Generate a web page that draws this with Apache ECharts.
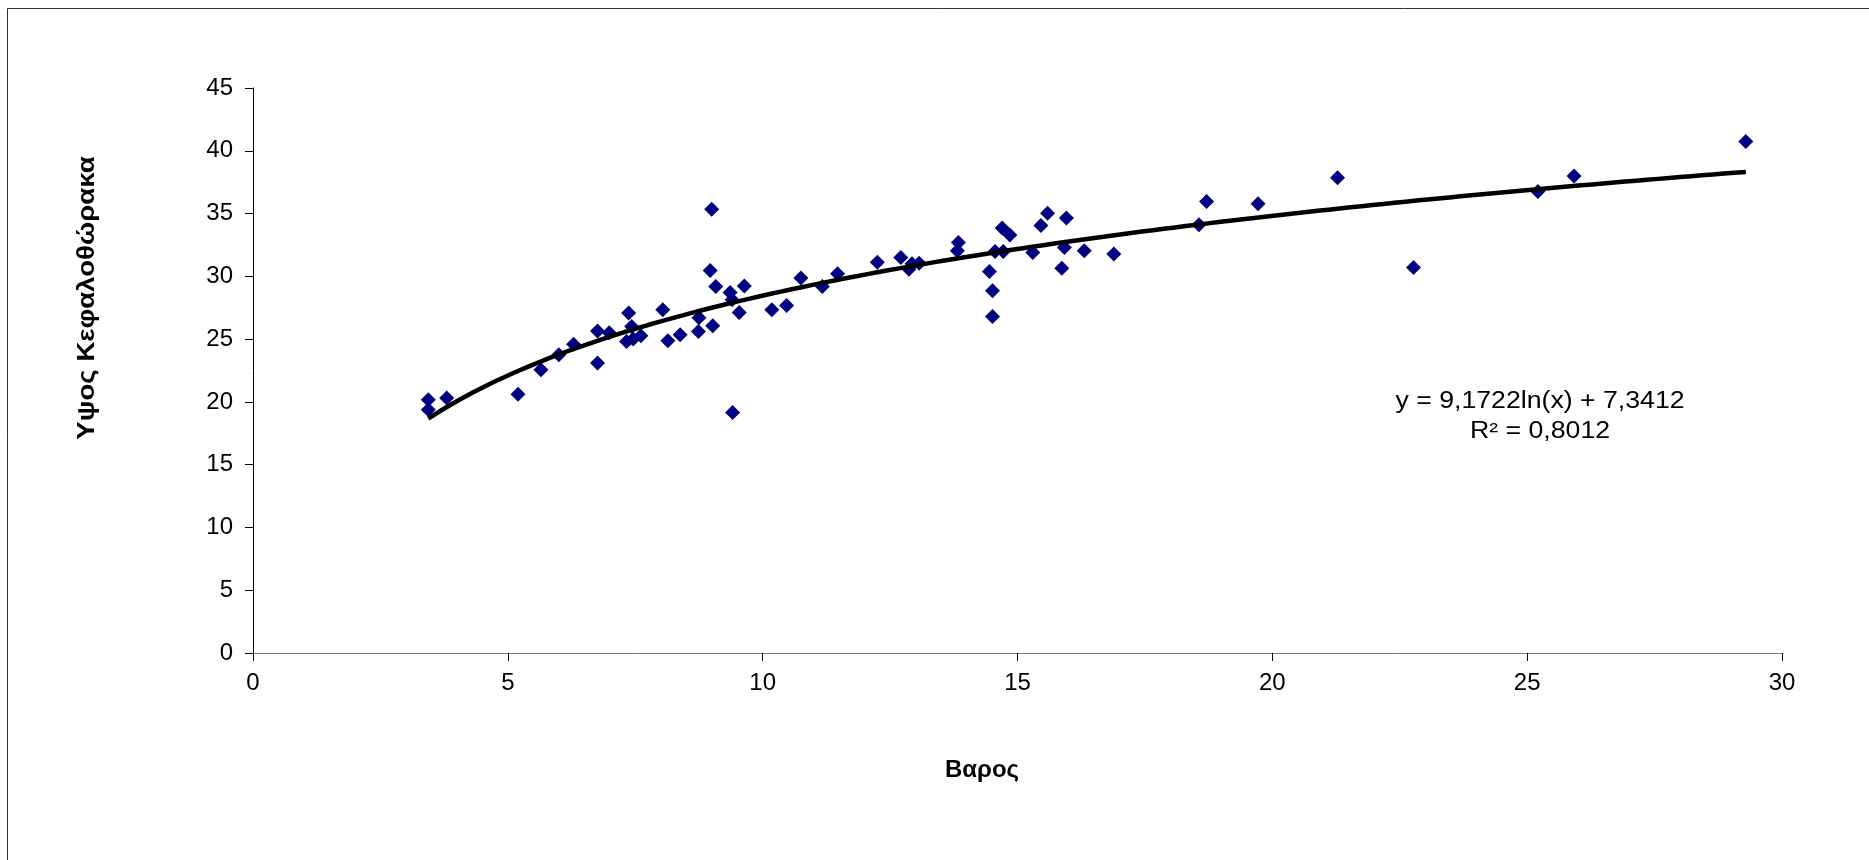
<!DOCTYPE html>
<html>
<head>
<meta charset="utf-8">
<script src="https://cdn.jsdelivr.net/npm/echarts@6/dist/echarts.min.js"></script>
<style>
html,body{margin:0;padding:0;background:#fff;}
#chart{width:1869px;height:860px;}
</style>
</head>
<body>
<div id="chart"></div>
<script>
// Weight (Βαρος)
var weights = [3.44, 3.44, 3.80, 5.20, 5.65, 6.00, 6.29, 6.76, 6.76, 6.99,
  7.37, 7.43, 7.33, 7.46, 7.61, 8.04, 8.14, 8.38, 8.75, 8.74,
  9.02, 9.00, 8.97, 9.08, 9.36, 9.40, 9.64, 9.54, 9.41, 10.18,
  10.47, 10.75, 11.17, 11.47, 12.25, 12.71, 12.87, 12.93, 13.07, 13.84,
  13.82, 14.45, 14.51, 14.51, 14.56, 14.72, 14.70, 14.85, 15.30, 15.46,
  15.59, 15.92, 15.87, 15.96, 16.31, 16.89, 18.56, 18.71, 19.72, 21.28,
  22.77, 25.21, 25.92, 29.29];
// Cephalothorax height (Υψος Κεφαλοθώρακα)
var heights = [20.17, 19.37, 20.30, 20.60, 22.55, 23.75, 24.60, 23.10, 25.65, 25.50,
  27.07, 26.00, 24.80, 25.00, 25.26, 27.33, 24.86, 25.34, 26.70, 25.60,
  26.06, 35.35, 30.47, 29.19, 28.71, 28.13, 29.24, 27.12, 19.16, 27.33,
  27.68, 29.86, 29.19, 30.20, 31.13, 31.50, 30.57, 31.00, 31.05, 32.70,
  32.03, 30.39, 28.85, 26.80, 31.98, 31.98, 33.85, 33.30, 31.90, 34.05,
  35.03, 32.30, 30.65, 34.64, 32.03, 31.77, 34.10, 35.96, 35.78, 37.85,
  30.70, 36.76, 38.00, 40.74];
// Logarithmic trendline shown on the chart: y = a ln(x) + b
var trendA = 9.1722;
var trendB = 7.3412;
var trendR2 = 0.8012;
var xAxisTitle = 'Βαρος';
var yAxisTitle = 'Υψος Κεφαλοθώρακα';

var scatterData = weights.map(function (w, i) { return [w, heights[i]]; });
var xMin = Math.min.apply(null, weights), xMax = Math.max.apply(null, weights);
var trendData = [];
for (var k = 0; k <= 120; k++) {
  var x = xMin + (xMax - xMin) * k / 120;
  trendData.push([x, trendA * Math.log(x) + trendB]);
}
function fmt(v) { return v.toFixed(4).replace('.', ','); }

var chart = echarts.init(document.getElementById('chart'), null, {renderer: 'canvas'});
var FONT = '"Liberation Sans", Arial, sans-serif';
chart.setOption({
  backgroundColor: '#fff',
  animation: false,
  grid: {left: 253, right: 87, top: 88, bottom: 207},
  xAxis: {
    type: 'value', min: 0, max: 30, interval: 5,
    axisLine: {show: true, onZero: false, lineStyle: {color: '#808080', width: 1}},
    axisTick: {show: true, length: 8, lineStyle: {color: '#000'}},
    axisLabel: {color: '#000', fontSize: 24, fontFamily: FONT, margin: 18},
    splitLine: {show: false}
  },
  yAxis: {
    type: 'value', min: 0, max: 45, interval: 5,
    axisLine: {show: true, onZero: false, lineStyle: {color: '#000', width: 1}},
    axisTick: {show: true, length: 8, lineStyle: {color: '#000'}},
    axisLabel: {color: '#000', fontSize: 24, fontFamily: FONT, margin: 20},
    splitLine: {show: false}
  },
  series: [
    {
      type: 'scatter', data: scatterData, symbol: 'diamond', symbolSize: 15,
      itemStyle: {color: '#000080', opacity: 1}, z: 2
    },
    {
      type: 'line', data: trendData, showSymbol: false, symbol: 'none',
      lineStyle: {color: '#000', width: 4.5}, z: 3, silent: true
    }
  ],
  graphic: [
    {type: 'line', shape: {x1: 7.5, y1: 8.5, x2: 7.5, y2: 860}, style: {stroke: '#333', lineWidth: 1}},
    {type: 'line', shape: {x1: 7.5, y1: 8.5, x2: 1869, y2: 8.5}, style: {stroke: '#333', lineWidth: 1}},
    {type: 'text', x: 982, y: 770, style: {text: xAxisTitle, font: 'bold 24px ' + FONT, fill: '#000', textAlign: 'center', textVerticalAlign: 'middle'}},
    {type: 'text', x: 87, y: 298, rotation: Math.PI / 2, scaleX: 1.15, style: {text: yAxisTitle, font: 'bold 24px ' + FONT, fill: '#000', textAlign: 'center', textVerticalAlign: 'middle'}},
    {type: 'text', x: 1540, y: 402, scaleX: 1.16, style: {text: 'y = ' + fmt(trendA) + 'ln(x) + ' + fmt(trendB), font: '23px ' + FONT, fill: '#000', textAlign: 'center', textVerticalAlign: 'middle'}},
    {type: 'text', x: 1540, y: 432, scaleX: 1.16, style: {text: 'R² = ' + fmt(trendR2), font: '23px ' + FONT, fill: '#000', textAlign: 'center', textVerticalAlign: 'middle'}}
  ]
});
</script>
</body>
</html>
